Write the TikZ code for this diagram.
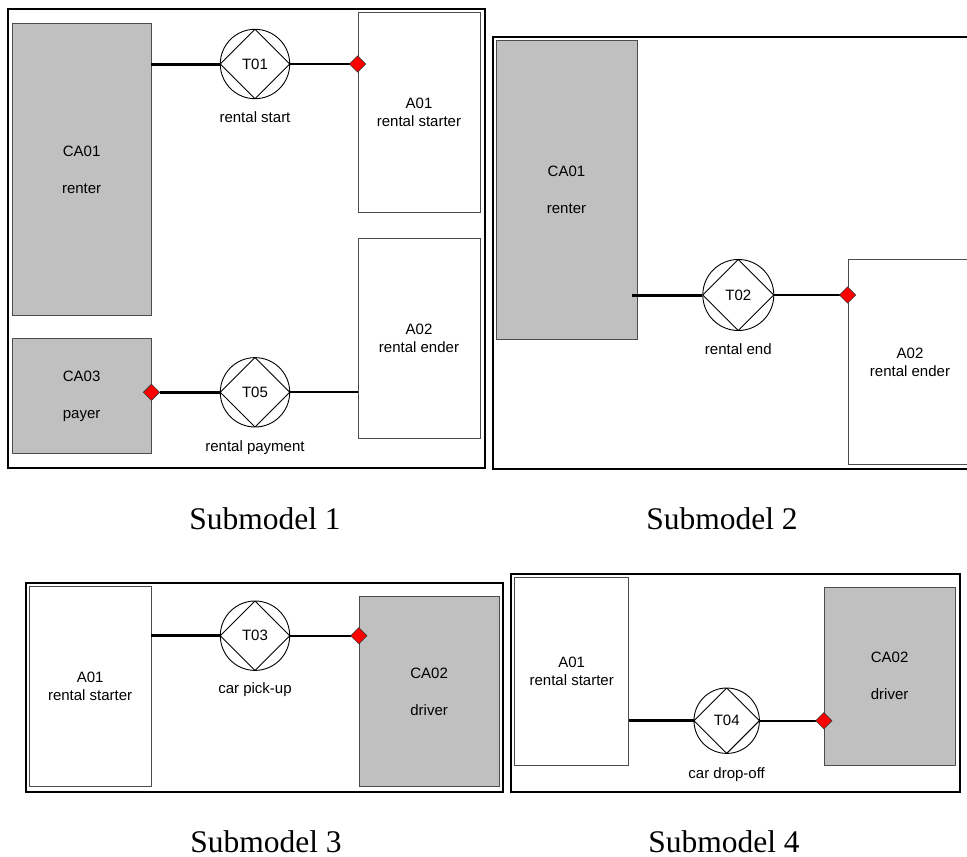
\documentclass[tikz,border=0pt]{standalone}
\usepackage{fontspec}
\setmainfont{Liberation Sans}
\newfontfamily\captionfont{Liberation Serif}
\usetikzlibrary{shapes.geometric,calc}

\definecolor{boxgray}{HTML}{C0C0C0}
\definecolor{portred}{HTML}{FF0000}

\begin{document}
\begin{tikzpicture}[x=1pt,y=-1pt,
  frame/.style={draw=black,line width=2.5pt},
  actor/.style={draw=black!70,line width=0.9pt,inner sep=0pt,align=center,
    font=\fontsize{15}{18}\selectfont},
  composite/.style={actor,fill=boxgray},
  elementary/.style={actor,fill=white},
  trans/.style={circle,draw=black,line width=0.9pt,inner sep=0pt,fill=white,
    font=\fontsize{15}{18}\selectfont,
    path picture={\draw[line width=0.9pt]
      (path picture bounding box.north) -- (path picture bounding box.east) --
      (path picture bounding box.south) -- (path picture bounding box.west) -- cycle;}},
  tname/.style={inner sep=0pt,anchor=base,font=\fontsize{15}{18}\selectfont},
  initiator/.style={draw=black,line width=3pt},
  executor/.style={draw=black,line width=1.8pt},
  port/.style={diamond,fill=portred,draw=black!80,line width=0.6pt,
    minimum size=16.5pt,inner sep=0pt},
  caption/.style={inner sep=0pt,anchor=base,
    font=\captionfont\fontsize{31.5}{36}\selectfont}
]
\useasboundingbox (0,0) rectangle (967,857);

% ---------- Submodel 1 ----------
\draw[frame] (8,9) rectangle (485,468);
\node[composite,minimum width=138.7pt,minimum height=292.7pt] (ca01) at (81.65,169.35)
  {CA01\\[19pt]renter};
\node[composite,minimum width=138.7pt,minimum height=115.7pt] (ca03) at (81.65,395.85)
  {CA03\\[19pt]payer};
\node[elementary,minimum width=122pt,minimum height=200pt] (a01) at (419,112.3)
  {A01\\rental starter};
\node[elementary,minimum width=122pt,minimum height=200pt] (a02) at (419,338.3)
  {A02\\rental ender};
\node[trans,minimum size=69.4pt] (t01) at (255,64) {T01};
\node[trans,minimum size=69.4pt] (t05) at (255,392.3) {T05};
\node[tname] (n01) at (255,122.2) {rental start};
\node[tname] (n05) at (255,451.5) {rental payment};
\draw[initiator] (t01.west -| ca01.east) -- (t01.west);
\draw[executor] (t01.east) -- (t01.east -| a01.west);
\node[port] (p01) at (t01 -| a01.west) {};
\node[port] (p05) at (t05 -| ca03.east) {};
\draw[initiator] (p05.east) -- (t05.west);
\draw[executor] (t05.east) -- (t05.east -| a02.west);

% ---------- Submodel 2 ----------
\draw[frame] (493,37) rectangle (980,469);
\node[composite,minimum width=141pt,minimum height=298.3pt] (ca01b) at (566.5,189.85)
  {CA01\\[19pt]renter};
\node[elementary,minimum width=124pt,minimum height=204.3pt] (a02b) at (910,361.85)
  {A02\\rental ender};
\node[trans,minimum size=71pt] (t02) at (738.3,295) {T02};
\node[tname] (n02) at (738.3,354.5) {rental end};
\coordinate (s02) at ($(t02 -| ca01b.east)+(-5,0)$);
\draw[initiator] (s02) -- (t02.west);
\draw[executor] (t02.east) -- (t02.east -| a02b.west);
\node[port] (p02) at (t02 -| a02b.west) {};

% ---------- Submodel 3 ----------
\draw[frame] (26,583) rectangle (503,792);
\node[elementary,minimum width=121.7pt,minimum height=200.7pt] (a01c) at (90.15,686.35)
  {A01\\rental starter};
\node[composite,minimum width=139.7pt,minimum height=190.7pt] (ca02c) at (429.15,691.35)
  {CA02\\[19pt]driver};
\node[trans,minimum size=69.4pt] (t03) at (255,635.7) {T03};
\node[tname] (n03) at (255,693.8) {car pick-up};
\draw[initiator] (t03.west -| a01c.east) -- (t03.west);
\draw[executor] (t03.east) -- (t03.east -| ca02c.west);
\node[port] (p03) at (t03 -| ca02c.west) {};

% ---------- Submodel 4 ----------
\draw[frame] (511,574) rectangle (960,792);
\node[elementary,minimum width=114pt,minimum height=187.7pt] (a01d) at (571.7,671.15)
  {A01\\rental starter};
\node[composite,minimum width=130.7pt,minimum height=177.7pt] (ca02d) at (889.65,676.15)
  {CA02\\[19pt]driver};
\node[trans,minimum size=65.4pt] (t04) at (726.7,720.7) {T04};
\node[tname] (n04) at (726.7,778.2) {car drop-off};
\draw[initiator] (t04.west -| a01d.east) -- (t04.west);
\draw[executor] (t04.east) -- (t04.east -| ca02d.west);
\node[port] (p04) at (t04 -| ca02d.west) {};

% ---------- captions ----------
\node[caption] (c1) at (265,529) {Submodel 1};
\node[caption] (c2) at (722,529) {Submodel 2};
\node[caption] (c3) at (266,852) {Submodel 3};
\node[caption] (c4) at (724,852) {Submodel 4};
\end{tikzpicture}
\end{document}
